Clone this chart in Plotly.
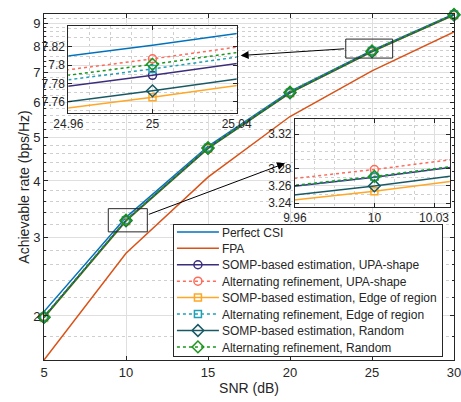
import plotly.graph_objects as go
import numpy as np

snr = [5, 10, 15, 20, 25, 30]
perfect_csi = [2.045, 3.319, 4.78, 6.34, 7.822, 9.43]
fpa = [1.595, 2.76, 4.08, 5.57, 7.04, 8.60]
somp_upa = [1.99, 3.270, 4.74, 6.30, 7.789, 9.40]
alt_upa = [1.995, 3.279, 4.75, 6.315, 7.807, 9.42]
somp_edge = [1.98, 3.254, 4.72, 6.28, 7.765, 9.37]
alt_edge = [1.99, 3.2705, 4.745, 6.305, 7.796, 9.41]
somp_rand = [1.985, 3.260, 4.73, 6.29, 7.772, 9.38]
alt_rand = [1.99, 3.271, 4.745, 6.31, 7.801, 9.41]

names = ["Perfect CSI", "FPA",
         "SOMP-based estimation, UPA-shape", "Alternating refinement, UPA-shape",
         "SOMP-based estimation, Edge of region", "Alternating refinement, Edge of region",
         "SOMP-based estimation, Random", "Alternating refinement, Random"]
series = [perfect_csi, fpa, somp_upa, alt_upa, somp_edge, alt_edge, somp_rand, alt_rand]
colors = ["#0072BD", "#D95319", "#3B2C7C", "#FF6A5A", "#FFA726", "#20A0B4", "#185A64", "#1A961A"]
dashes = ["solid", "solid", "solid", "dot", "solid", "dot", "solid", "dot"]
symbols = [None, None, "circle-open", "circle-open", "square-open", "square-open",
           "diamond-open", "diamond-open"]
msizes = [0, 0, 8, 8, 7, 7, 9, 9]

y_ticks = [2, 3, 4, 5, 6, 7, 8, 9]
y_minor = [round(v, 1) for v in np.arange(1.6, 9.45, 0.2) if abs(v - round(v)) > 0.05]
x_ticks = [5, 10, 15, 20, 25, 30]
inset1_xticks = [24.96, 25, 25.04]
inset1_yticks = [7.76, 7.78, 7.80, 7.82]
inset1_yticktext = ["7.76", "7.78", "7.8", "7.82"]
inset2_xticks = [9.96, 10, 10.03]
inset2_yticks = [3.24, 3.26, 3.28, 3.32]

FONT = "Liberation Sans, Arial, sans-serif"
TXT = "#262626"

fig = go.Figure()
for axn, (xa, ya) in enumerate([("x", "y"), ("x2", "y2"), ("x3", "y3")]):
    for i, (nm, ys) in enumerate(zip(names, series)):
        mode = "lines" if symbols[i] is None else "lines+markers"
        marker = dict(symbol=symbols[i], size=msizes[i], color=colors[i],
                      line=dict(width=1.5, color=colors[i])) if symbols[i] else None
        fig.add_trace(go.Scatter(
            x=snr, y=ys, name=nm, mode=mode, xaxis=xa, yaxis=ya,
            line=dict(color=colors[i], width=1.5, dash=dashes[i]),
            marker=marker, showlegend=(axn == 0),
            cliponaxis=(axn != 0)))

grid = "#DFDFDF"
mgrid = "#CFCFCF"
common = dict(showline=True, linecolor=TXT, linewidth=1, mirror="ticks", ticks="inside",
              ticklen=4, tickcolor=TXT, tickfont=dict(family=FONT, size=12, color=TXT),
              showgrid=True, gridcolor=grid, gridwidth=1, zeroline=False, automargin=False,
              ticklabeloverflow="allow")

fig.update_layout(
    width=461, height=402,
    margin=dict(l=44, r=7, t=14, b=42),
    paper_bgcolor="white", plot_bgcolor="white",
    font=dict(family=FONT, color=TXT),
    xaxis=dict(range=[5, 30], tickvals=x_ticks, domain=[0, 1],
               title=dict(text="SNR (dB)", font=dict(size=14, family=FONT, color=TXT), standoff=4),
               **{**common, "tickfont": dict(family=FONT, size=13, color=TXT)}),
    yaxis=dict(type="log", range=[np.log10(1.595), np.log10(9.43)], tickvals=y_ticks, domain=[0, 1],
               title=dict(text="Achievable rate (bps/Hz)", font=dict(size=14, family=FONT, color=TXT), standoff=0),
               minor=dict(tickvals=y_minor, showgrid=True, gridcolor=mgrid, griddash="dot",
                          ticks="inside", ticklen=2, tickcolor=TXT),
               **{**common, "tickfont": dict(family=FONT, size=13, color=TXT)}),
    xaxis2=dict(anchor="y2", domain=[0.0593, 0.470], range=[24.96, 25.04], tickvals=inset1_xticks,
                ticktext=["24.96", "25", "25.04"],
                minor=dict(dtick=0.01, tick0=24.96, showgrid=True, gridcolor=mgrid, griddash="dot"),
                **common),
    yaxis2=dict(anchor="x2", domain=[0.7147, 0.9653], range=[7.748, 7.843], tickvals=inset1_yticks,
                ticktext=inset1_yticktext,
                minor=dict(dtick=0.01, tick0=7.76, showgrid=True, gridcolor=mgrid, griddash="dot"),
                **common),
    xaxis3=dict(anchor="y3", domain=[0.612, 0.990], range=[9.96, 10.038], tickvals=inset2_xticks,
                ticktext=["9.96", "10", "10.03"],
                minor=dict(dtick=0.01, tick0=9.96, showgrid=True, gridcolor=mgrid, griddash="dot"),
                **common),
    yaxis3=dict(anchor="x3", domain=[0.443, 0.6957], range=[3.236, 3.337], tickvals=inset2_yticks,
                ticktext=["3.24", "3.26", "3.28", "3.32"],
                minor=dict(dtick=0.01, tick0=3.24, showgrid=True, gridcolor=mgrid, griddash="dot"),
                **common),
    legend=dict(x=0.973, y=0.0116, xanchor="right", yanchor="bottom",
                bgcolor="white", bordercolor=TXT, borderwidth=1, itemwidth=38,
                font=dict(family=FONT, size=12, color=TXT), tracegroupgap=0),
    showlegend=True,
)

# zoom rectangles (data coordinates)
rects = [(23.40, 26.26, 7.52, 8.29), (8.92, 11.30, 3.08, 3.47)]
for x0, x1, y0, y1 in rects:
    fig.add_shape(type="rect", xref="x", yref="y", x0=x0, x1=x1,
                  y0=y0, y1=y1, line=dict(color=TXT, width=1), layer="above")

arrows = [((16.99, 7.62), (23.40, 7.89)), ((19.70, 4.38), (11.30, 3.36))]
for (hx, hy), (tx, ty) in arrows:
    fig.add_annotation(x=hx, y=np.log10(hy), ax=tx, ay=np.log10(ty), xref="x", yref="y",
                       axref="x", ayref="y", showarrow=True, arrowhead=2, arrowsize=1.6,
                       arrowwidth=1, arrowcolor="black", text="")

post_js = r"""
document.body.style.margin='0';
document.body.style.overflow='hidden';
var gd=document.getElementById('{plot_id}');
var leg=gd.querySelector('g.legend');
if(leg){
  var re=/translate\(\s*([-\d.e]+)[\s,]+([-\d.e]+)\s*\)/;
  var m=re.exec(leg.getAttribute('transform'));
  var lx=parseFloat(m[1]);
  var top=224, H=132, sp=16.43, first=7.9;
  leg.setAttribute('transform','translate('+lx+','+top+')');
  var bg=leg.querySelector('rect.bg'); if(bg){bg.setAttribute('height', H);}
  var items=leg.querySelectorAll('g.traces');
  for(var i=0;i<items.length;i++){
    var t=items[i];
    var mm=re.exec(t.getAttribute('transform'));
    t.setAttribute('transform','translate('+mm[1]+','+(first+i*sp)+')');
  }
  leg.querySelectorAll('g.legendlines path').forEach(function(p){p.setAttribute('d','M3,0h42');});
  leg.querySelectorAll('g.legendpoints path').forEach(function(p){p.setAttribute('transform','translate(24,0)');});
}
"""

fig.write_html("out.html", post_script=post_js, config={"displayModeBar": False})
